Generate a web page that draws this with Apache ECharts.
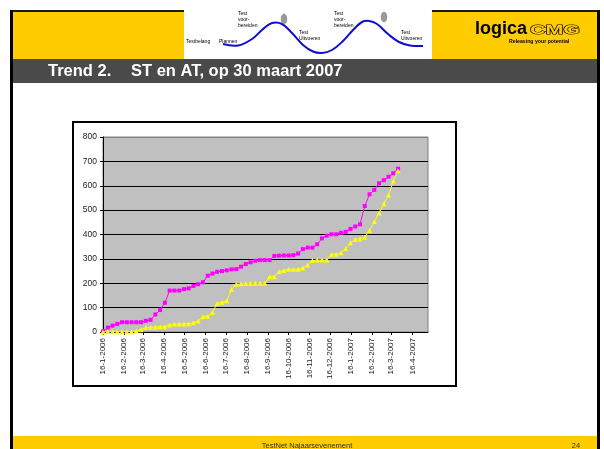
<!DOCTYPE html>
<html>
<head>
<meta charset="utf-8">
<script src="https://cdn.jsdelivr.net/npm/echarts@6/dist/echarts.min.js"></script>
<style>
html,body{margin:0;padding:0;background:#fff;}
#c{width:604px;height:449px;}
</style>
</head>
<body>
<div id="c"></div>
<script>
// ---- data ----
const dates = [
 '2006-01-16','2006-01-23','2006-01-30','2006-02-06','2006-02-13','2006-02-20','2006-02-27',
 '2006-03-06','2006-03-13','2006-03-20','2006-03-27','2006-04-03','2006-04-10','2006-04-17','2006-04-24',
 '2006-05-01','2006-05-08','2006-05-15','2006-05-22','2006-05-29','2006-06-05','2006-06-12','2006-06-19','2006-06-26',
 '2006-07-03','2006-07-10','2006-07-17','2006-07-24','2006-07-31','2006-08-07','2006-08-14','2006-08-21','2006-08-28',
 '2006-09-04','2006-09-11','2006-09-18','2006-09-25','2006-10-02','2006-10-09','2006-10-16','2006-10-23','2006-10-30',
 '2006-11-06','2006-11-13','2006-11-20','2006-11-27','2006-12-04','2006-12-11','2006-12-18','2006-12-25',
 '2007-01-01','2007-01-08','2007-01-15','2007-01-22','2007-01-29','2007-02-05','2007-02-12','2007-02-19','2007-02-26',
 '2007-03-05','2007-03-12','2007-03-19','2007-03-26'
];
const stValues = [3,18,26,33,40,40,40,40,40,46,50,72,90,120,170,170,170,176,179,189,196,204,231,240,247,250,253,257,258,268,279,286,292,295,295,295,312,313,314,314,315,322,340,346,346,360,384,395,401,401,407,411,423,433,442,517,565,583,610,623,637,651,670];
const atValues = [0,1,1,1,1,1,1,4,9,18,19,20,22,22,29,33,33,33,34,38,45,63,65,80,118,122,128,175,196,198,199,200,200,200,200,227,227,248,252,257,257,257,263,275,293,295,295,295,319,319,325,343,366,380,382,389,416,453,488,526,562,620,662];
const xTickLabels = ['16-1-2006','16-2-2006','16-3-2006','16-4-2006','16-5-2006','16-6-2006','16-7-2006','16-8-2006',
 '16-9-2006','16-10-2006','16-11-2006','16-12-2006','16-1-2007','16-2-2007','16-3-2007','16-4-2007'];
const yTicks = [0,100,200,300,400,500,600,700,800];
const xMinDate = '2006-01-16';
const xMaxDate = '2007-05-09';

// ---- helpers ----
function isoToMs(s){const p=s.split('-').map(Number);return Date.UTC(p[0],p[1]-1,p[2]);}
function dmyToMs(s){const p=s.split('-').map(Number);return Date.UTC(p[2],p[1]-1,p[0]);}
const tickMs = xTickLabels.map(dmyToMs);
const labelByMs = {};
tickMs.forEach((v,i)=>{labelByMs[v]=xTickLabels[i];});
const stData = dates.map((d,i)=>[isoToMs(d),stValues[i]]);
const atData = dates.map((d,i)=>[isoToMs(d),atValues[i]]);

const FF = '"Liberation Sans", Arial, sans-serif';
const chart = echarts.init(document.getElementById('c'), null, {renderer:'canvas'});

const wavePts = [[223,44],[238,45.5],[252,39],[262,30],[272,23],[282,24],[292,33],[303,45],[313,51.5],[322,53],[332,50],[343,41],[354,29],[362,22],[369,21],[377,24],[388,34],[399,42],[410,45.5],[423,46]];

function t(x,y,text,size,opts){
  opts = opts || {};
  const el = {type:'text',x:x,y:y,silent:true,style:Object.assign({text:text,fill:'#000',font:(opts.bold?'bold ':'')+size+'px '+FF,verticalAlign:'middle',align:'left'},opts.style||{})};
  return Object.assign(el, opts.el||{});
}

const graphics = [
  {type:'rect',shape:{x:10,y:10,width:590,height:2},style:{fill:'#1a1a1a'}},
  {type:'rect',shape:{x:10,y:10,width:3,height:439},style:{fill:'#000'}},
  {type:'rect',shape:{x:597,y:10,width:3,height:439},style:{fill:'#000'}},
  {type:'rect',shape:{x:13,y:12,width:584,height:47},style:{fill:'#FFCC00'}},
  {type:'rect',shape:{x:184,y:10,width:248,height:49},style:{fill:'#fff'}},
  {type:'rect',shape:{x:13,y:59,width:584,height:24},style:{fill:'#4a4a4a'}},
  {type:'rect',shape:{x:13,y:436,width:584,height:13},style:{fill:'#FFCC00'}},
  {type:'polyline',shape:{points:wavePts,smooth:0.4},style:{stroke:'#1010CC',lineWidth:2,fill:null}},
  {type:'ellipse',shape:{cx:284,cy:19,rx:2.8,ry:5},style:{fill:'#9a9a9a',stroke:'#666',lineWidth:0.5}},
  {type:'ellipse',shape:{cx:384,cy:17,rx:2.8,ry:5},style:{fill:'#9a9a9a',stroke:'#666',lineWidth:0.5}},
  t(186,42,'Testbelang',5),
  t(219,42,'Plannen',5),
  t(238,14,'Test',5), t(238,20,'voor-',5), t(238,26,'bereiden',5),
  t(299,33,'Test',5), t(299,39,'Uitvoeren',5),
  t(334,14,'Test',5), t(334,20,'voor-',5), t(334,26,'bereiden',5),
  t(401,33,'Test',5), t(401,39,'Uitvoeren',5),
  t(475,29,'logica',18,{bold:true}),
  {type:'text',x:530,y:30,scaleX:1.65,silent:true,style:{text:'CMG',fill:'#FFCC00',stroke:'#000',lineWidth:1,font:'bold 13px '+FF,verticalAlign:'middle'}},
  t(509,42,'Releasing your potential',5.2,{bold:true}),
  t(48,71,'Trend 2.',16.5,{bold:true,style:{fill:'#fff'}}),
  t(131,71,'ST en AT, op 30 maart 2007',16.5,{bold:true,style:{fill:'#fff'}}),
  t(307,446,'TestNet Najaarsevenement',7.5,{style:{fill:'#333',align:'center'}}),
  t(576,446,'24',7.5,{style:{fill:'#333',align:'center'}}),
  {type:'rect',shape:{x:73,y:122,width:383,height:264},style:{fill:null,stroke:'#000',lineWidth:2}}
];

chart.setOption({
  animation:false,
  backgroundColor:'#fff',
  textStyle:{fontFamily:FF},
  graphic:{elements:graphics},
  grid:{left:103,top:137,width:325,height:195,show:true,backgroundColor:'#C0C0C0',borderColor:'#808080',borderWidth:1,containLabel:false},
  xAxis:{
    type:'value',
    min:isoToMs(xMinDate), max:isoToMs(xMaxDate),
    axisLine:{show:true,lineStyle:{color:'#000',width:1}},
    axisTick:{show:true,length:3,inside:false,customValues:tickMs,lineStyle:{color:'#000'}},
    axisLabel:{show:true,rotate:90,margin:6,fontSize:8,color:'#222',fontFamily:FF,customValues:tickMs,hideOverlap:false,
      formatter:function(v){return labelByMs[v] || '';}},
    splitLine:{show:false}
  },
  yAxis:{
    type:'value',min:0,max:800,interval:100,
    axisLine:{show:true,lineStyle:{color:'#000',width:1}},
    axisTick:{show:true,length:3,inside:false,lineStyle:{color:'#000'}},
    axisLabel:{fontSize:8.5,color:'#222',margin:6,fontFamily:FF},
    splitLine:{show:true,lineStyle:{color:['#000','#000','#000','#000','#000','#000','#000','#000','#808080'],width:1}}
  },
  series:[
    {name:'ST',type:'line',data:stData,symbol:'rect',symbolSize:4,showSymbol:true,
     lineStyle:{color:'#FF00FF',width:1},itemStyle:{color:'#FF00FF'},z:3},
    {name:'AT',type:'line',data:atData,symbol:'triangle',symbolSize:5,showSymbol:true,
     lineStyle:{color:'#FFFF00',width:1},itemStyle:{color:'#FFFF00'},z:4}
  ]
});
</script>
</body>
</html>
